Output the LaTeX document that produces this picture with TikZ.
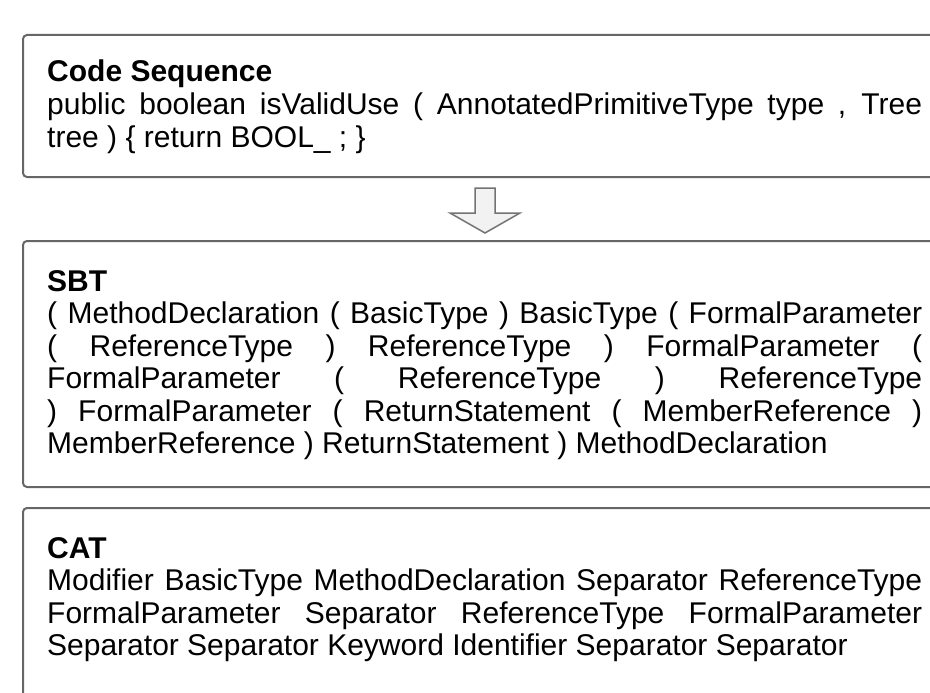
\documentclass[tikz,border=0pt]{standalone}
\usepackage{fontspec}
\setmainfont{Liberation Sans}
\usetikzlibrary{positioning}

\tikzset{
  panel/.style={draw=black!60, line width=2pt, rounded corners=4pt},
  title/.style={anchor=base west, inner sep=0pt, font=\fontsize{30}{32.5}\selectfont\bfseries},
  body/.style={anchor=base west, inner sep=0pt, text width=875pt, align=justify,
    font=\fontsize{30}{32.5}\selectfont,
    execute at begin node={\tolerance=10000\relax\hyphenpenalty=10000\relax}},
  downarrow/.style={fill=black!5, draw=black!55, line width=1.5pt, line join=miter}
}

\begin{document}
\begin{tikzpicture}[x=1pt,y=-1pt]
\useasboundingbox (0,0) rectangle (930,693);
\clip (0,0) rectangle (930,693);

% boxes
\draw[panel] (23,35) rectangle (960,177);
\draw[panel] (23,241) rectangle (960,487);
\draw[panel] (23,508) rectangle (960,740);

% arrow
\draw[downarrow] (475,188) -- (495,188) -- (495,213) -- (520,213) -- (485,233)
  -- (450,213) -- (475,213) -- cycle;

\node[title] (codetitle) at (47,82) {Code Sequence};
\node[body] (codetext) at (47,114.5) {public boolean isValidUse ( AnnotatedPrimitiveType type , Tree\linebreak
tree ) \{ return BOOL\_ ; \}};

\node[title] (sbttitle) at (47,291) {SBT};
\node[body] (sbttext) at (47,323.5) {( MethodDeclaration ( BasicType ) BasicType ( FormalParameter\linebreak
( ReferenceType ) ReferenceType ) FormalParameter (\linebreak
FormalParameter ( ReferenceType ) ReferenceType\linebreak
) FormalParameter ( ReturnStatement ( MemberReference )\linebreak
MemberReference ) ReturnStatement ) MethodDeclaration};

\node[title] (cattitle) at (47,558) {CAT};
\node[body] (cattext) at (47,590.5) {Modifier BasicType MethodDeclaration Separator ReferenceType\linebreak
FormalParameter Separator ReferenceType FormalParameter\linebreak
Separator Separator Keyword Identifier Separator Separator};

\end{tikzpicture}
\end{document}
